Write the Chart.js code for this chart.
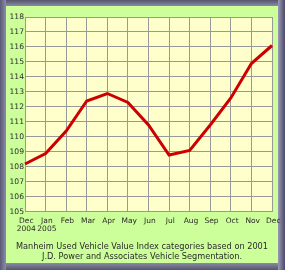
<!DOCTYPE html>
<html><head><meta charset="utf-8">
<script src="https://cdn.jsdelivr.net/npm/chart.js@4.4.0/dist/chart.umd.min.js"></script>
<style>
html,body{margin:0;padding:0;width:285px;height:270px;overflow:hidden;background:#fff}
#frame{position:absolute;left:0;top:0;width:285px;height:270px;
 background:linear-gradient(to bottom,#55556e,#8a8aa6 6px,#8a8aa6 263px,#55556e);}
#frame:before{content:"";position:absolute;left:0;top:0;width:285px;height:270px;
 background:linear-gradient(to right,#5a5a76 0,#8c8caa 6px,transparent 6px,transparent 278px,#9a9ab8 278px,#4a4a66 285px);}
#inner{position:absolute;left:6px;top:6px;width:272px;height:257px;background:#ccff99}
#c{position:absolute;left:0;top:0}
</style></head>
<body>
<div id="frame"></div><div id="inner"></div>
<canvas id="c" width="285" height="270"></canvas>
<script>
const categories = [["Dec","2004"],["Jan","2005"],"Feb","Mar","Apr","May","Jun","Jul","Aug","Sep","Oct","Nov","Dec"];
const indexValues = [108.2,108.9,110.4,112.4,112.9,112.3,110.8,108.8,109.1,110.8,112.6,114.9,116.1];
const yTicks = [105,106,107,108,109,110,111,112,113,114,115,116,117,118];
const titleLines = ["Manheim Used Vehicle Value Index categories based on 2001","J.D. Power and Associates Vehicle Segmentation."];

const plotBg = {
  id:'plotBg',
  beforeDraw(chart){
    const {ctx, chartArea:a} = chart;
    ctx.save(); ctx.fillStyle='#ffffcc';
    ctx.fillRect(a.left,a.top,a.right-a.left,a.bottom-a.top);
    ctx.restore();
  }
};
const centerTitle = {
  id:'centerTitle',
  afterLayout(chart){
    const t = chart.titleBlock;
    if (t){ t.left = 0; t.right = 284; t.width = 284; }
  }
};
const fam = "'DejaVu Sans', Verdana, sans-serif";
new Chart(document.getElementById('c'),{
  type:'line',
  data:{labels:categories,datasets:[{data:indexValues,borderColor:'#cc0000',borderWidth:3,pointRadius:0,tension:0,fill:false}]},
  options:{
    responsive:false,animation:false,
    layout:{padding:{left:0,right:13,top:17,bottom:0}},
    plugins:{legend:{display:false},tooltip:{enabled:false},
      title:{display:true,position:'bottom',text:titleLines,color:'#2a2a2a',
        font:{family:fam,size:8.2,weight:'normal',lineHeight:1.22},padding:{top:0,bottom:8}}},
    scales:{
      x:{grid:{color:'#999999',lineWidth:1,drawTicks:false},border:{color:'#999999'},
        ticks:{color:'#2a2a2a',font:{family:fam,size:7.5,lineHeight:1.1},maxRotation:0,autoSkip:false,padding:5,labelOffset:1.3},
        afterFit(s){s.height=30;}},
      y:{min:105,max:118,grid:{color:'#999999',lineWidth:1,drawTicks:false},border:{color:'#999999'},
        afterBuildTicks(s){s.ticks=yTicks.map(v=>({value:v}));},
        ticks:{color:'#2a2a2a',font:{family:fam,size:7.6},padding:1},
        afterFit(s){s.width=25;}}
    }
  },
  plugins:[plotBg, centerTitle]
});
</script>
</body></html>
